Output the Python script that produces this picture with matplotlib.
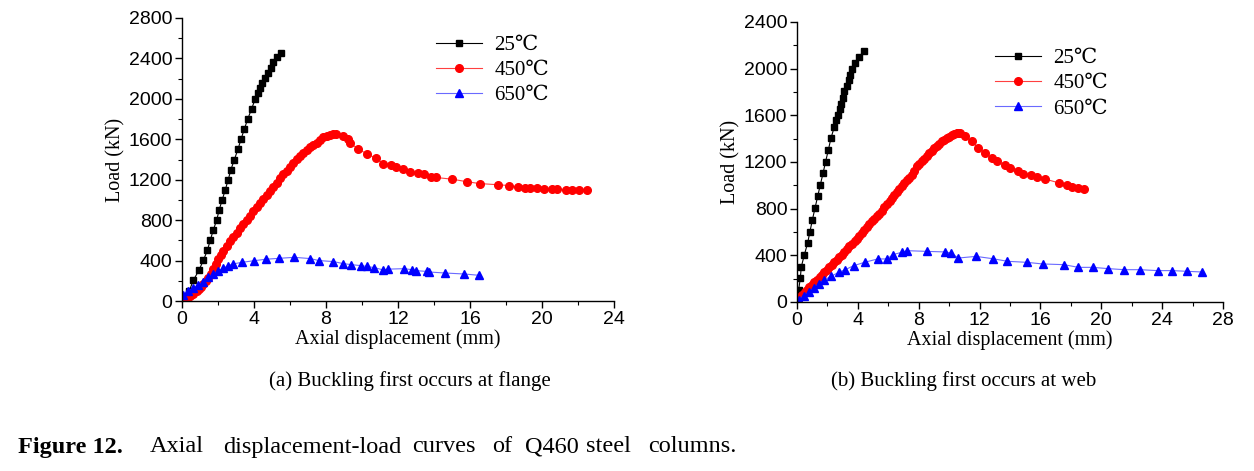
import matplotlib
matplotlib.use("Agg")
import matplotlib.pyplot as plt
from matplotlib.ticker import MultipleLocator

# ---- data ----
# (a) buckling first occurs at flange
a_25_x = [0.0, 0.15, 0.4, 0.63, 0.94, 1.19, 1.41, 1.57, 1.74, 1.93, 2.07, 2.24, 2.41, 2.57, 2.72,
          2.91, 3.11, 3.28, 3.46, 3.65, 3.87, 4.07, 4.2, 4.33, 4.46, 4.6, 4.76, 4.93, 5.07, 5.26, 5.48]
a_25_y = [0, 30, 100, 205, 304, 403, 502, 601, 703, 802, 905, 1004, 1103, 1202, 1301,
          1400, 1502, 1601, 1700, 1800, 1902, 2000, 2060, 2110, 2160, 2210, 2260, 2310, 2360, 2410, 2450]

a_450_x = [0.05, 0.2, 0.32, 0.44, 0.6, 0.81, 0.95, 1.08, 1.19, 1.32, 1.46, 1.6, 1.74, 1.88, 2.02,
           2.16, 2.3, 2.48, 2.67, 2.85, 3.04, 3.22, 3.41, 3.6, 3.78, 3.96, 4.15, 4.33, 4.52, 4.7,
           4.89, 5.07, 5.26, 5.45, 5.63, 5.82, 6.0, 6.18, 6.37, 6.55, 6.74, 6.92, 7.11, 7.3, 7.48,
           7.66, 7.85, 8.03, 8.22, 8.4, 8.56, 8.93, 9.24, 9.33, 9.8, 10.3, 10.76, 11.19, 11.59,
           11.89, 12.26, 12.67, 13.09, 13.46, 13.81, 14.11, 15.02, 15.83, 16.54, 17.57, 18.19,
           18.65, 19.06, 19.33, 19.7, 20.11, 20.54, 20.81, 21.33, 21.69, 22.06, 22.48]
a_450_y = [16, 30, 40, 50, 70, 99, 120, 140, 165, 195, 231, 270, 314, 362, 413,
           455, 495, 545, 594, 636, 677, 718, 759, 800, 842, 888, 934, 970, 1007, 1048,
           1089, 1130, 1172, 1213, 1255, 1290, 1321, 1362, 1403, 1438, 1469, 1495, 1519, 1545, 1568,
           1595, 1618, 1630, 1641, 1648, 1651, 1628, 1601, 1565, 1502, 1453, 1413, 1360, 1350,
           1321, 1304, 1281, 1264, 1255, 1231, 1222, 1205, 1180, 1162, 1150, 1142,
           1130, 1122, 1122, 1114, 1112, 1112, 1110, 1102, 1102, 1102, 1100]

a_650_x = [0.07, 0.35, 0.63, 0.91, 1.19, 1.46, 1.74, 2.02, 2.3, 2.57, 2.81, 3.35, 4.02, 4.65, 5.37,
           6.24, 7.11, 7.61, 8.41, 8.96, 9.39, 9.94, 10.26, 10.69, 11.19, 11.43, 12.35, 12.76, 13.0,
           13.59, 13.72, 14.61, 15.69, 16.52]
a_650_y = [59, 99, 125, 158, 191, 234, 267, 300, 323, 350, 366, 383, 399, 413, 422,
           432, 420, 400, 390, 370, 360, 350, 342, 330, 307, 315, 320, 310, 300,
           293, 287, 277, 267, 254]

# (b) buckling first occurs at web
b_25_x = [0.04, 0.11, 0.22, 0.28, 0.48, 0.7, 0.85, 1.01, 1.18, 1.36, 1.53, 1.71, 1.88, 2.06, 2.23,
          2.45, 2.56, 2.67, 2.8, 2.89, 3.02, 3.11, 3.28, 3.39, 3.5, 3.61, 3.83, 4.05, 4.42]
b_25_y = [20, 106, 206, 300, 403, 506, 603, 703, 803, 906, 1003, 1103, 1203, 1303, 1403,
          1500, 1557, 1606, 1654, 1700, 1751, 1806, 1854, 1906, 1949, 1997, 2049, 2100, 2149]

b_450_x = [0.04, 0.18, 0.33, 0.5, 0.66, 0.82, 0.98, 1.15, 1.31, 1.48, 1.64, 1.8, 1.97, 2.13, 2.3,
           2.46, 2.63, 2.79, 2.95, 3.12, 3.28, 3.45, 3.61, 3.78, 3.94, 4.1, 4.27, 4.43, 4.6, 4.76,
           4.92, 5.09, 5.25, 5.42, 5.58, 5.75, 5.91, 6.08, 6.24, 6.4, 6.56, 6.73, 6.89, 7.05, 7.22,
           7.38, 7.55, 7.71, 7.88, 8.05, 8.21, 8.37, 8.53, 8.7, 8.86, 9.02, 9.19, 9.35, 9.52, 9.68,
           9.85, 10.02, 10.18, 10.34, 10.5, 10.61, 10.72, 11.05, 11.49, 11.92, 12.36, 12.8, 13.13,
           13.68, 14.0, 14.55, 14.88, 15.38, 15.76, 16.3, 17.24, 17.73, 18.06, 18.49, 18.85]
b_450_y = [20, 42, 63, 85, 106, 128, 149, 170, 191, 213, 234, 256, 277, 298, 320,
           342, 363, 384, 406, 430, 454, 477, 500, 522, 543, 567, 591, 617, 643, 667,
           691, 712, 734, 758, 783, 811, 840, 865, 891, 915, 940, 965, 991, 1017, 1043,
           1067, 1091, 1127, 1163, 1185, 1206, 1228, 1249, 1273, 1297, 1318, 1340, 1358, 1377, 1392,
           1406, 1418, 1429, 1440, 1449, 1452, 1448, 1419, 1376, 1319, 1277, 1234, 1205,
           1171, 1148, 1119, 1099, 1091, 1071, 1054, 1020, 999, 985, 977, 968]

b_650_x = [0.11, 0.44, 0.77, 1.09, 1.42, 1.75, 2.23, 2.74, 3.17, 3.72, 4.44, 5.3, 5.91, 6.3, 6.89,
           7.22, 8.53, 9.74, 10.11, 10.61, 11.77, 12.87, 13.83, 15.1, 16.15, 17.55, 18.49, 19.43,
           20.46, 21.51, 22.54, 23.7, 24.68, 25.65, 26.65]
b_650_y = [20, 54, 83, 120, 154, 186, 220, 254, 277, 311, 340, 369, 369, 406, 426,
           440, 434, 429, 420, 377, 391, 371, 349, 340, 326, 320, 297, 297,
           286, 277, 277, 269, 269, 263, 257]

labels = ["25℃", "450℃", "650℃"]

W, H = 1254, 471
SANS = ["Liberation Sans", "DejaVu Sans"]
SERIF = ["Liberation Serif", "DejaVu Serif", "Noto Sans CJK SC"]

fig = plt.figure(figsize=(W / 100, H / 100), dpi=100)
fig.patch.set_facecolor("white")


def px_axes(x0, x1, ytop, ybot):
    return fig.add_axes([x0 / W, 1 - ybot / H, (x1 - x0) / W, (ybot - ytop) / H])


def style(ax, xmax, ymax):
    ax.set_xlim(0, xmax)
    ax.set_ylim(0, ymax)
    for s in ("top", "right"):
        ax.spines[s].set_visible(False)
    for s in ("left", "bottom"):
        ax.spines[s].set_linewidth(1.0)
    ax.xaxis.set_major_locator(MultipleLocator(4))
    ax.xaxis.set_minor_locator(MultipleLocator(2))
    ax.yaxis.set_major_locator(MultipleLocator(400))
    ax.yaxis.set_minor_locator(MultipleLocator(200))
    ax.tick_params(which="major", direction="out", length=5, width=1, labelsize=14, pad=2)
    ax.tick_params(which="minor", direction="out", length=3, width=0.8)
    for t in ax.get_xticklabels() + ax.get_yticklabels():
        t.set_family(SANS)
    ax.set_xlabel("Axial displacement (mm)", family=SERIF, fontsize=14.5, labelpad=1)
    ax.set_ylabel("Load (kN)", family=SERIF, fontsize=14.5, labelpad=2)


def curves(ax, series):
    styles = [("black", "#000000", "s", 4.5), ("#ff4040", "#ff0000", "o", 5.5),
              ("#6a6aff", "#0000ff", "^", 6)]
    for (x, y), lab, (lc, mc, mk, ms) in zip(series, labels, styles):
        ax.plot(x, y, color=lc, lw=0.8, marker=mk, ms=ms, mfc=mc, mec=mc, label=lab)


axa = px_axes(182, 614, 18, 301)
curves(axa, [(a_25_x, a_25_y), (a_450_x, a_450_y), (a_650_x, a_650_y)])
style(axa, 24, 2800)
axa.legend(loc="upper left", bbox_to_anchor=(0.588, 0.939), frameon=False,
           prop={"family": SERIF, "size": 15}, handlelength=2.2, handletextpad=0.6,
           labelspacing=0.27, borderpad=0, borderaxespad=0)

axb = px_axes(797, 1223, 22, 302)
curves(axb, [(b_25_x, b_25_y), (b_450_x, b_450_y), (b_650_x, b_650_y)])
style(axb, 28, 2400)
axb.legend(loc="upper left", bbox_to_anchor=(0.465, 0.905), frameon=False,
           prop={"family": SERIF, "size": 15}, handlelength=2.2, handletextpad=0.6,
           labelspacing=0.27, borderpad=0, borderaxespad=0)

fig.text(410 / W, 1 - 381 / H, "(a) Buckling first occurs at flange", family=SERIF,
         fontsize=15, ha="center", va="center")
fig.text(964 / W, 1 - 381 / H, "(b) Buckling first occurs at web", family=SERIF,
         fontsize=15, ha="center", va="center")

# figure caption, words spread like the justified original
cap_words = [("Figure 12.", 18, "bold"), ("Axial", 150, "normal"),
             ("displacement-load", 223, "normal"), ("curves", 412, "normal"),
             ("of", 492, "normal"), ("Q460", 525, "normal"), ("steel", 586, "normal"),
             ("columns.", 648, "normal")]
for word, xpos, wt in cap_words:
    fig.text(xpos / W, 1 - 447 / H, word, family=SERIF, fontsize=17.5, weight=wt,
             ha="left", va="center")

fig.savefig("out.png", dpi=100, facecolor="white")
